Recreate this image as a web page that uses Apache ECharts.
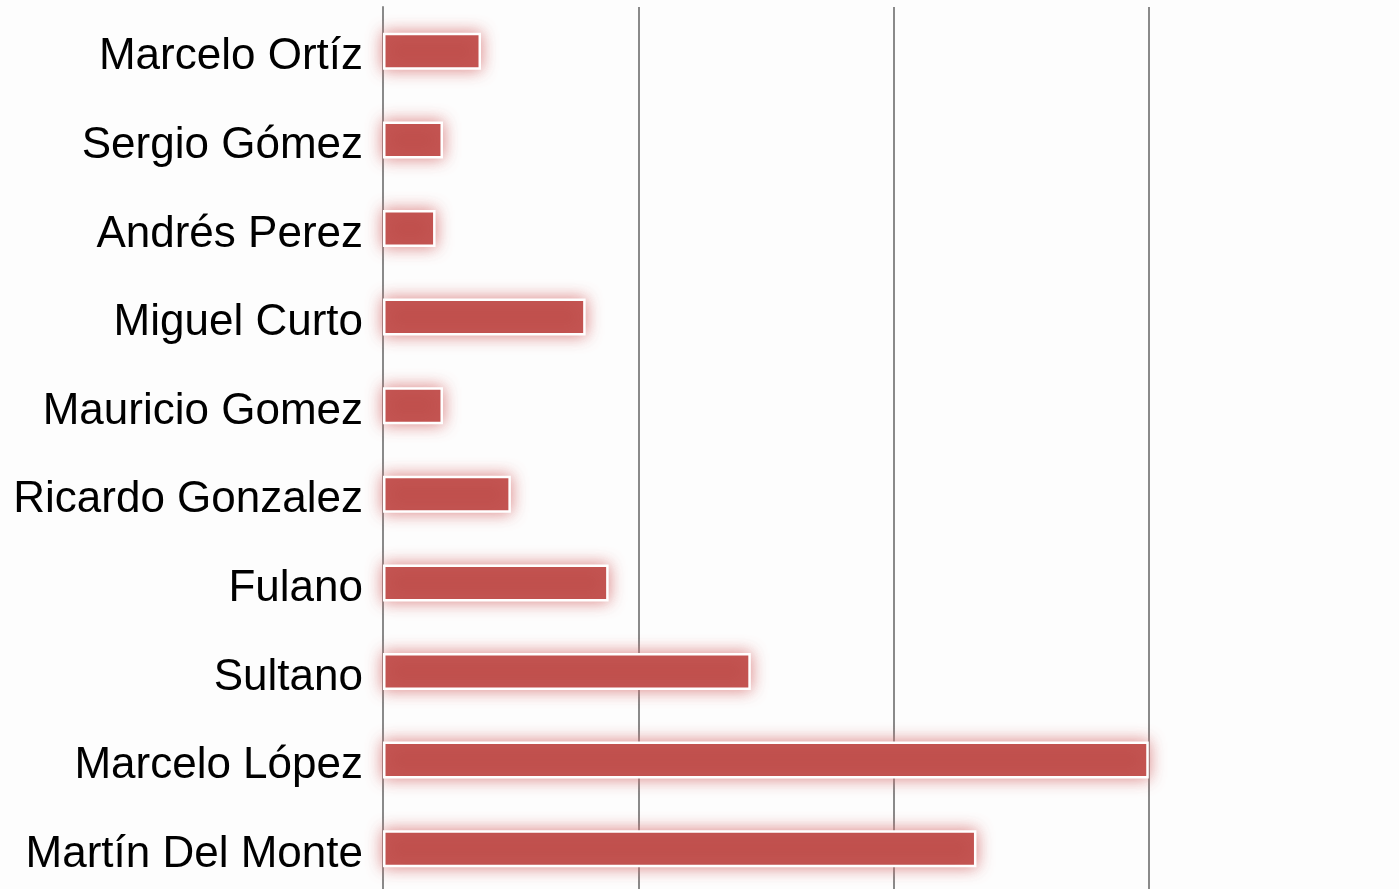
<!DOCTYPE html>
<html>
<head>
<meta charset="utf-8">
<script src="https://cdn.jsdelivr.net/npm/echarts@6/dist/echarts.min.js"></script>
<style>
html,body{margin:0;padding:0;background:#fdfdfd;overflow:hidden;}
#chart{width:1404px;height:893px;}
</style>
</head>
<body>
<div id="chart"></div>
<script>
const categories = ["Marcelo Ortíz","Sergio Gómez","Andrés Perez","Miguel Curto","Mauricio Gomez","Ricardo Gonzalez","Fulano","Sultano","Marcelo López","Martín Del Monte"];
const values = [3.84, 2.35, 2.06, 7.94, 2.35, 5.01, 8.84, 14.41, 30.0, 23.25];
const axisMin = 0;
const axisMax = 40;
const axisInterval = 10;

const chart = echarts.init(document.getElementById('chart'));
chart.setOption({
  backgroundColor: '#fdfdfd',
  animation: false,
  grid: { left: 383, right: 0, top: 7, bottom: 0, containLabel: false },
  xAxis: {
    type: 'value', min: axisMin, max: axisMax, interval: axisInterval,
    axisLabel: { show: false }, axisTick: { show: false }, axisLine: { show: false },
    splitLine: { show: true, lineStyle: { color: '#8a8a8a', width: 2 } }
  },
  yAxis: {
    type: 'category', data: categories, inverse: true,
    axisTick: { show: false },
    axisLine: { show: true, lineStyle: { color: '#8a8a8a', width: 2 } },
    axisLabel: { color: '#000', fontFamily: 'Liberation Sans', fontSize: 44, margin: 20, verticalAlign: 'top', lineHeight: 12 }
  },
  series: [{
    type: 'bar', data: values, barWidth: 37,
    itemStyle: {
      color: '#c0504d', borderColor: '#ffffff', borderWidth: 2.5,
      shadowBlur: 16, shadowColor: 'rgba(215,110,110,0.85)'
    }
  }]
});
</script>
</body>
</html>
